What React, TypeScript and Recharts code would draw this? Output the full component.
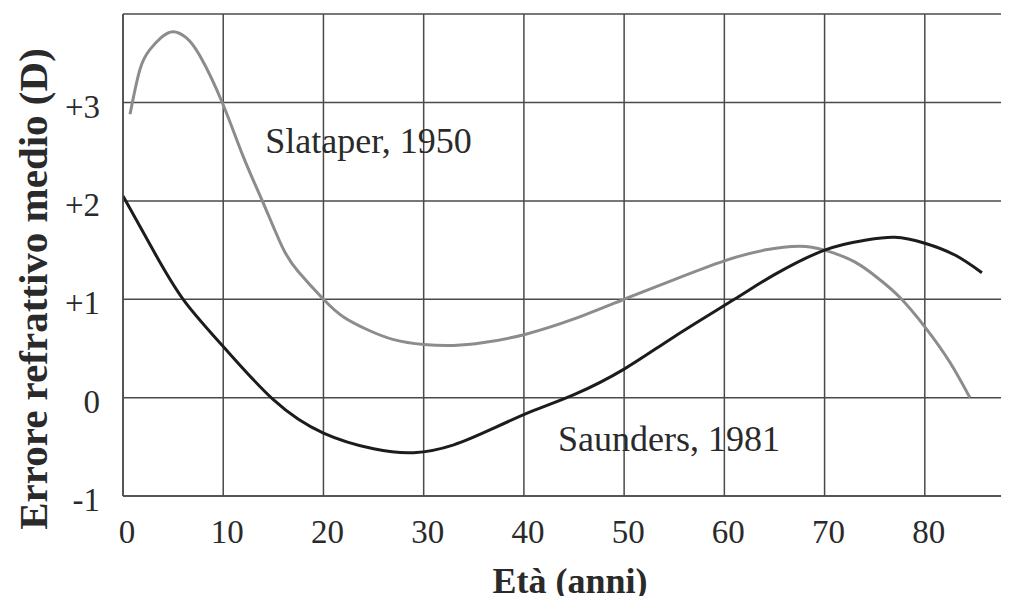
import { LineChart, Line, XAxis, YAxis, CartesianGrid, ReferenceDot, Label } from 'recharts';

// Slataper, 1950 (grey curve)
const slataperAge = [0.7, 1.7, 2.7, 3.8, 5.0, 6.3, 7.7, 9.9, 12, 13.9, 15.9, 17.5, 20, 22, 24.4, 27, 30, 33, 36, 40, 45, 50, 55, 60, 64, 67.5, 70, 73, 75.5, 77.5, 80, 82.5, 84.5];
const slataperValue = [2.88, 3.34, 3.54, 3.66, 3.72, 3.66, 3.47, 3.0, 2.45, 2.0, 1.53, 1.28, 1.0, 0.82, 0.69, 0.59, 0.54, 0.53, 0.56, 0.64, 0.8, 1.0, 1.2, 1.39, 1.5, 1.54, 1.5, 1.38, 1.2, 1.02, 0.72, 0.36, 0.0];

// Saunders, 1981 (black curve)
const saundersAge = [0, 3, 6, 10, 15, 20, 25, 29, 33, 37, 41, 45, 50, 55, 61, 65, 70, 74, 77, 80, 83, 85.7];
const saundersValue = [2.05, 1.5, 1.0, 0.52, -0.02, -0.36, -0.52, -0.56, -0.48, -0.31, -0.13, 0.03, 0.29, 0.62, 1.0, 1.25, 1.5, 1.6, 1.63, 1.57, 1.45, 1.27];

const xTicks = [0, 10, 20, 30, 40, 50, 60, 70, 80];
const yTicks = [-1, 0, 1, 2, 3];

const slataper = slataperAge.map((age, i) => ({ age, value: slataperValue[i] }));
const saunders = saundersAge.map((age, i) => ({ age, value: saundersValue[i] }));

const serif = '"Liberation Serif", "DejaVu Serif", serif';
const ink = '#2a2a2a';
const gridColor = '#4a4a4a';

const XTick = ({ x, y, payload }: any) => (
  <text x={x + 4} y={y + 47} textAnchor="middle" fontFamily={serif} fontSize={33} fill={ink}>
    {payload.value}
  </text>
);

const YTick = ({ x, y, payload }: any) => (
  <text x={x - 23} y={y + 15} textAnchor="end" fontFamily={serif} fontSize={33} fill={ink}>
    {payload.value > 0 ? `+${payload.value}` : `${payload.value}`}
  </text>
);

const curveLabel = (text: string) => ({ viewBox }: any) => (
  <text x={viewBox.x} y={viewBox.y} fontFamily={serif} fontSize={36} fill={ink}>
    {text}
  </text>
);

export default function App() {
  return (
    <div style={{ margin: -8, width: 1009, height: 604, background: '#ffffff', overflow: 'hidden' }}>
      <LineChart width={1009} height={604} margin={{ top: 14, right: 0, bottom: 0, left: 0 }}>
        <CartesianGrid stroke={gridColor} strokeWidth={1.5} />
        <XAxis
          type="number"
          dataKey="age"
          domain={[0, 88.4]}
          ticks={xTicks}
          allowDataOverflow
          height={108}
          tickLine={false}
          tickSize={0}
          tickMargin={0}
          axisLine={{ stroke: gridColor, strokeWidth: 1.5 }}
          tick={<XTick />}
        >
          <Label
            content={({ viewBox }: any) => (
              <text
                x={viewBox.x + viewBox.width / 2 + 4}
                y={viewBox.y + 97}
                textAnchor="middle"
                fontFamily={serif}
                fontWeight="bold"
                fontSize={36}
                fill={ink}
              >
                Età (anni)
              </text>
            )}
          />
        </XAxis>
        <YAxis
          type="number"
          dataKey="value"
          domain={[-1, 3.9]}
          ticks={yTicks}
          allowDataOverflow
          width={123}
          tickLine={false}
          tickSize={0}
          tickMargin={0}
          axisLine={{ stroke: gridColor, strokeWidth: 1.5 }}
          tick={<YTick />}
        >
          <Label
            content={({ viewBox }: any) => {
              const cx = viewBox.x + 47;
              const cy = viewBox.y + 275;
              return (
                <text
                  x={cx}
                  y={cy}
                  transform={`rotate(-90 ${cx} ${cy})`}
                  textAnchor="middle"
                  fontFamily={serif}
                  fontWeight="bold"
                  fontSize={41}
                  fill={ink}
                >
                  Errore refrattivo medio (D)
                </text>
              );
            }}
          />
        </YAxis>
        <Line
          data={slataper}
          dataKey="value"
          type="natural"
          stroke="#8c8c8c"
          strokeWidth={3}
          dot={false}
          isAnimationActive={false}
        />
        <Line
          data={saunders}
          dataKey="value"
          type="natural"
          stroke="#1c1c1c"
          strokeWidth={3}
          dot={false}
          isAnimationActive={false}
        />
        <ReferenceDot x={14.2} y={2.49} r={0} ifOverflow="visible" label={curveLabel('Slataper, 1950')} />
        <ReferenceDot x={43.4} y={-0.54} r={0} ifOverflow="visible" label={curveLabel('Saunders, 1981')} />
      </LineChart>
    </div>
  );
}
